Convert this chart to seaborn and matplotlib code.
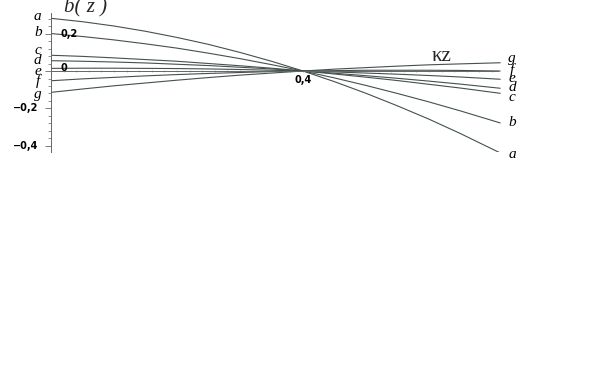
import numpy as np
import pandas as pd
import matplotlib
matplotlib.use("Agg")
import matplotlib.pyplot as plt
from matplotlib.ticker import MultipleLocator, FixedLocator
import seaborn as sns

# values (kz positions and b(z) per curve)
kz = [0.0, 0.05, 0.1, 0.15, 0.2, 0.25, 0.3, 0.35, 0.4,
      0.45, 0.5, 0.55, 0.6, 0.65, 0.713]
curve_a = [0.281, 0.263, 0.240, 0.212, 0.179, 0.142, 0.099, 0.052, 0.0,
           -0.057, -0.119, -0.186, -0.257, -0.334, -0.437]
curve_b = [0.200, 0.184, 0.166, 0.145, 0.122, 0.095, 0.066, 0.034, 0.0,
           -0.037, -0.077, -0.120, -0.165, -0.213, -0.277]
curve_c = [0.084, 0.078, 0.070, 0.061, 0.052, 0.040, 0.028, 0.015, 0.0,
           -0.016, -0.033, -0.051, -0.071, -0.091, -0.119]
curve_d = [0.055, 0.052, 0.048, 0.043, 0.036, 0.029, 0.020, 0.011, 0.0,
           -0.012, -0.025, -0.039, -0.054, -0.070, -0.092]
curve_e = [0.014, 0.015, 0.015, 0.014, 0.013, 0.011, 0.008, 0.004, 0.0,
           -0.005, -0.011, -0.017, -0.024, -0.032, -0.044]
curve_f = [-0.052, -0.042, -0.034, -0.026, -0.019, -0.013, -0.008, -0.003, 0.0,
           0.002, 0.004, 0.004, 0.004, 0.003, 0.0]
curve_g = [-0.114, -0.096, -0.079, -0.064, -0.049, -0.035, -0.022, -0.011, 0.0,
           0.010, 0.018, 0.026, 0.033, 0.038, 0.044]

names = ["a", "b", "c", "d", "e", "f", "g"]
left_label_y = [0.293, 0.208, 0.107, 0.055, 0.0, -0.055, -0.128]
right_label_y = [-0.443, -0.277, -0.144, -0.088, -0.038, 0.006, 0.069]

curves = [curve_a, curve_b, curve_c, curve_d, curve_e, curve_f, curve_g]
rows = []
for name, vals in zip(names, curves):
    for x, y in zip(kz, vals):
        rows.append({"kz": x, "b": y, "curve": name})
df = pd.DataFrame(rows)

sns.set_style("white")
line_col = "#44514f"
axis_col = "#666666"

fig = plt.figure(figsize=(5.99, 3.82), dpi=100)
ax = fig.add_axes([51 / 599, 1 - 151.6 / 382, (0.76 * 630) / 599, (151.6 - 12.9) / 382])

sns.lineplot(data=df, x="kz", y="b", hue="curve", palette=[line_col] * 7,
             linewidth=0.8, legend=False, ax=ax, sort=False)

ax.set_xlim(0, 0.76)
ax.set_ylim(-0.43, 0.31)
ax.set_xlabel("")
ax.set_ylabel("")

for s in ["top", "right"]:
    ax.spines[s].set_visible(False)
ax.spines["bottom"].set_position(("data", 0))
ax.spines["bottom"].set_bounds(0, 0.71)
ax.spines["left"].set_bounds(-0.43, 0.31)
for s in ["bottom", "left"]:
    ax.spines[s].set_color(axis_col)
    ax.spines[s].set_linewidth(0.7)

ax.xaxis.set_major_locator(FixedLocator(np.arange(0.02, 0.701, 0.02)))
ax.set_xticklabels([])
ax.tick_params(axis="x", bottom=True, direction="inout", length=2, width=0.4,
               colors="#888888")
ax.yaxis.set_major_locator(MultipleLocator(0.2))
ax.yaxis.set_minor_locator(MultipleLocator(0.04))
ax.tick_params(axis="y", which="both", left=True)
ax.tick_params(axis="y", which="major", direction="out", length=4, width=0.6, colors=axis_col)
ax.tick_params(axis="y", which="minor", direction="out", length=2.5, width=0.5, colors=axis_col)
ax.set_yticklabels([])

num_font = dict(fontsize=7, fontweight="bold", color="black", family="DejaVu Sans")
ax.text(0.015, 0.2, "0,2", ha="left", va="center", **num_font)
ax.text(0.015, 0.015, "0", ha="left", va="center", **num_font)
ax.text(-0.02, -0.2, "\u22120,2", ha="right", va="center", **num_font)
ax.text(-0.02, -0.4, "\u22120,4", ha="right", va="center", **num_font)
ax.text(0.4, -0.02, "0,4", ha="center", va="top", **num_font)

lab_font = dict(fontsize=11, style="italic", family="Liberation Serif", color="black")
for name, ly, ry in zip(names, left_label_y, right_label_y):
    ax.text(-0.021, ly, name, ha="center", va="center", **lab_font)
    ax.text(0.732, ry, name, ha="center", va="center", **lab_font)

ax.text(0.055, 0.335, "b( z )", ha="center", va="center", fontsize=15,
        style="italic", family="Liberation Serif")
ax.text(0.62, 0.076, "\u03baz", ha="center", va="center", fontsize=15,
        family="Liberation Serif")

fig.savefig("out.png", dpi=100)
plt.close(fig)
